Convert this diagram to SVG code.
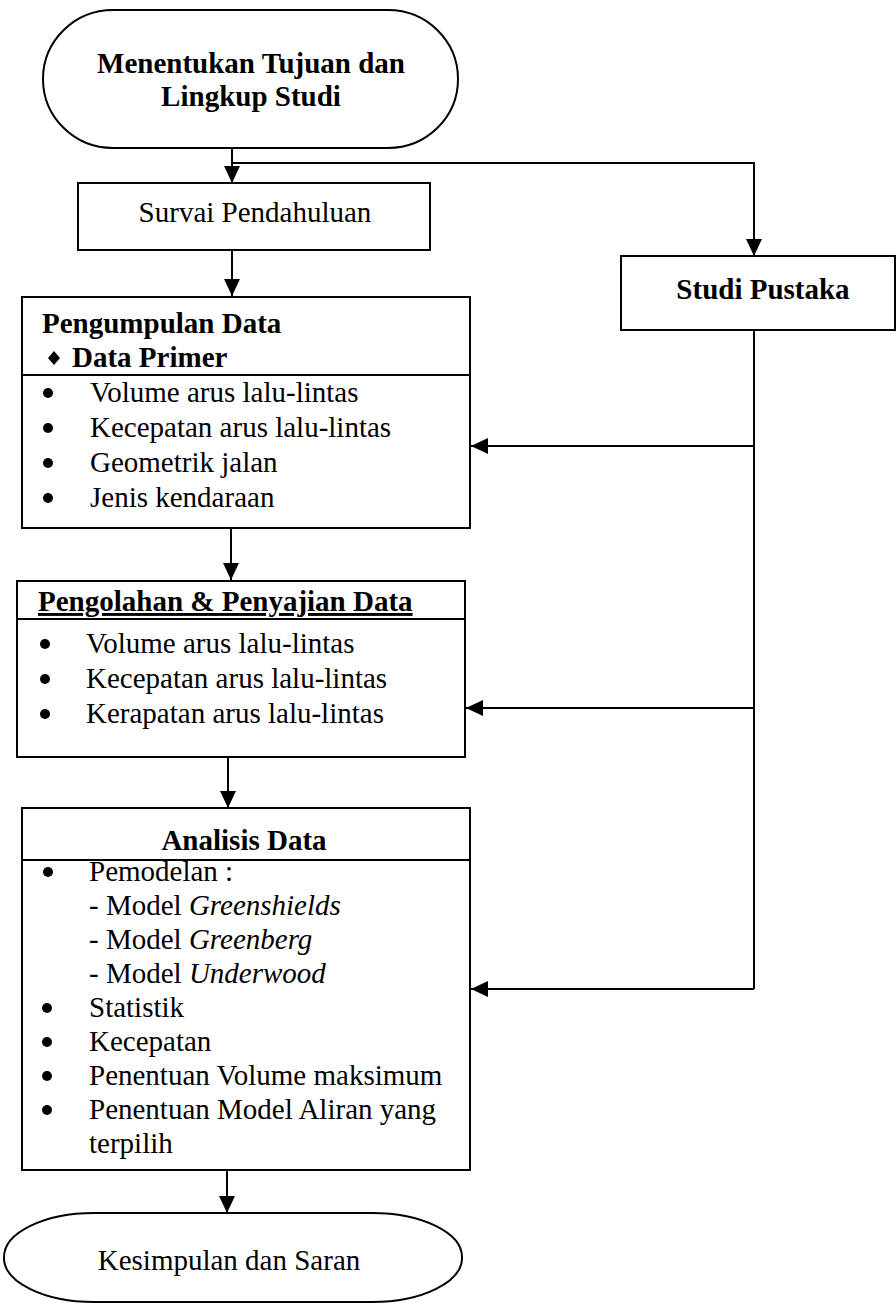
<svg xmlns="http://www.w3.org/2000/svg" width="896" height="1305" viewBox="0 0 896 1305">
<defs>
<style>
.box{fill:#fff;stroke:#000;stroke-width:2}
.ln{fill:none;stroke:#000;stroke-width:2}
.t{font-family:"Liberation Serif","Times New Roman",serif;font-size:29px;fill:#000}
.b{font-weight:bold}
.c{text-anchor:middle}
.i{font-style:italic}
.dot{fill:#000}
</style>
<marker id="ah" markerUnits="userSpaceOnUse" markerWidth="18" markerHeight="16" refX="17" refY="8" orient="auto">
<path d="M0,0 L17,8 L0,16 z" fill="#000"/>
</marker>
</defs>
<rect width="896" height="1305" fill="#fff"/>

<g id="connectors">
<path class="ln" d="M232,148 V183" marker-end="url(#ah)"/>
<path class="ln" d="M232,163 H754 V256" marker-end="url(#ah)"/>
<path class="ln" d="M232,250 V296" marker-end="url(#ah)"/>
<path class="ln" d="M231,528 V580" marker-end="url(#ah)"/>
<path class="ln" d="M228,757 V808" marker-end="url(#ah)"/>
<path class="ln" d="M227,1170 V1213" marker-end="url(#ah)"/>
<path class="ln" d="M754,330 V989"/>
<path class="ln" d="M754,446 H471" marker-end="url(#ah)"/>
<path class="ln" d="M754,708 H466" marker-end="url(#ah)"/>
<path class="ln" d="M754,989 H471" marker-end="url(#ah)"/>
</g>

<g id="start">
<rect class="box" x="43" y="10" width="415" height="138" rx="70" ry="69"/>
<text class="t b c" x="251" y="73">Menentukan Tujuan dan</text>
<text class="t b c" x="251" y="106">Lingkup Studi</text>
</g>

<g id="survai">
<rect class="box" x="78" y="183" width="352" height="67"/>
<text class="t c" x="255" y="222">Survai Pendahuluan</text>
</g>

<g id="studi">
<rect class="box" x="621" y="256" width="274" height="74"/>
<text class="t b c" x="763" y="299">Studi Pustaka</text>
</g>

<g id="pengumpulan">
<rect class="box" x="22" y="297" width="448" height="231"/>
<line class="ln" x1="22" y1="375" x2="470" y2="375"/>
<text class="t b" x="42" y="333">Pengumpulan Data</text>
<path class="dot" d="M54,351 L60,358 L54,365 L48,358 z"/>
<text class="t b" x="72" y="367">Data Primer</text>
<circle class="dot" cx="48" cy="393" r="5"/>
<text class="t" x="90" y="402">Volume arus lalu-lintas</text>
<circle class="dot" cx="48" cy="428" r="5"/>
<text class="t" x="90" y="437">Kecepatan arus lalu-lintas</text>
<circle class="dot" cx="48" cy="463" r="5"/>
<text class="t" x="90" y="472">Geometrik jalan</text>
<circle class="dot" cx="48" cy="498" r="5"/>
<text class="t" x="90" y="507">Jenis kendaraan</text>
</g>

<g id="pengolahan">
<rect class="box" x="17" y="581" width="448" height="176"/>
<line class="ln" x1="17" y1="619" x2="465" y2="619"/>
<text class="t b" x="38" y="611" text-decoration="underline">Pengolahan &amp; Penyajian Data</text>
<circle class="dot" cx="45" cy="644" r="5"/>
<text class="t" x="86" y="653">Volume arus lalu-lintas</text>
<circle class="dot" cx="45" cy="679" r="5"/>
<text class="t" x="86" y="688">Kecepatan arus lalu-lintas</text>
<circle class="dot" cx="45" cy="714" r="5"/>
<text class="t" x="86" y="723">Kerapatan arus lalu-lintas</text>
</g>

<g id="analisis">
<rect class="box" x="22" y="808" width="448" height="362"/>
<line class="ln" x1="22" y1="860" x2="470" y2="860"/>
<text class="t b c" x="244" y="850">Analisis Data</text>
<circle class="dot" cx="48" cy="872" r="5"/>
<text class="t" x="89" y="881">Pemodelan :</text>
<text class="t" x="89" y="915">- Model <tspan class="i">Greenshields</tspan></text>
<text class="t" x="89" y="949">- Model <tspan class="i">Greenberg</tspan></text>
<text class="t" x="89" y="983">- Model <tspan class="i">Underwood</tspan></text>
<circle class="dot" cx="47" cy="1008" r="5"/>
<text class="t" x="89" y="1017">Statistik</text>
<circle class="dot" cx="47" cy="1042" r="5"/>
<text class="t" x="89" y="1051">Kecepatan</text>
<circle class="dot" cx="47" cy="1076" r="5"/>
<text class="t" x="89" y="1085">Penentuan Volume maksimum</text>
<circle class="dot" cx="47" cy="1110" r="5"/>
<text class="t" x="89" y="1119">Penentuan Model Aliran yang</text>
<text class="t" x="89" y="1153">terpilih</text>
</g>

<g id="kesimpulan">
<rect class="box" x="4" y="1213" width="458" height="89" rx="90" ry="44"/>
<text class="t c" x="229" y="1270">Kesimpulan dan Saran</text>
</g>
</svg>
